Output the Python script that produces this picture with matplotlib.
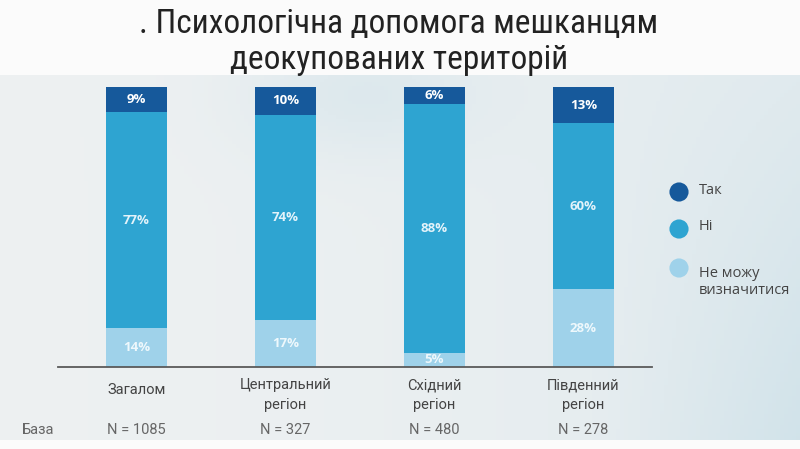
import matplotlib

matplotlib.use("Agg")
import matplotlib.pyplot as plt  # noqa: E402
import numpy as np
from matplotlib import font_manager

categories = ["Загалом", "Центральний\nрегіон", "Східний\nрегіон", "Південний\nрегіон"]
bases = ["N = 1085", "N = 327", "N = 480", "N = 278"]
series_names = ["Так", "Ні", "Не можу\nвизначитися"]
tak = [9, 10, 6, 13]
ni = [77, 74, 88, 60]
hard_to_say = [14, 17, 5, 28]

title = ". Психологічна допомога мешканцям\nдеокупованих територій"


def pick_font(names):
    for name in names:
        try:
            font_manager.findfont(name, fallback_to_default=False)
            return name
        except ValueError:
            continue
    return "DejaVu Sans"


narrow = pick_font(["Roboto Condensed", "Liberation Sans Narrow", "Roboto"])
body = pick_font(["Open Sans", "Roboto"])
label_font = pick_font(["Roboto", "Open Sans"])

W, H = 800, 449
fig = plt.figure(figsize=(8, 4.49), dpi=100)
fig.patch.set_facecolor("#fbfbfb")

# watercolor-ish backdrop
bg = fig.add_axes([0, 1 - 440 / H, 1, (440 - 75) / H])
gx, gy = np.meshgrid(np.linspace(0, 1, 200), np.linspace(0, 1, 100))
shade = 0.3 * gx**2 + 0.3 * np.exp(-((gx - 0.45) ** 2) / 0.02 - (gy - 0.05) ** 2 / 0.03)
shade += 0.45 * np.clip(gx - 0.75, 0, None) * gy * 3
shade = np.clip(shade, 0, 1)
light = np.array([0.93, 0.943, 0.948])
blue = np.array([0.76, 0.86, 0.9])
img = light[None, None, :] * (1 - shade[..., None]) + blue[None, None, :] * shade[..., None]
bg.imshow(img, aspect="auto", extent=[0, 1, 0, 1], origin="upper")
bg.axis("off")

# overlay in pixel coordinates for slide text
ov = fig.add_axes([0, 0, 1, 1], zorder=3)
ov.set_xlim(0, W)
ov.set_ylim(H, 0)
ov.axis("off")
ov.patch.set_alpha(0)

ov.text(399, 42, title, ha="center", va="center", fontsize=24, family=narrow,
        color="#222222", linespacing=1.2)

# bars
ax = fig.add_axes([58 / W, 1 - 367 / H, (652 - 58) / W, 280 / H], zorder=2)
ax.patch.set_alpha(0)
x = np.arange(len(categories))
colors = ["#16599b", "#2ea4d1", "#9fd2ea"]
text_colors = ["#ffffff", "#e3f3fa", "#eef8fc"]
stack = [hard_to_say, ni, tak]
stack_colors = [colors[2], colors[1], colors[0]]
stack_text = [text_colors[2], text_colors[1], text_colors[0]]
totals = np.sum(stack, axis=0)
bottom = np.zeros(len(categories))
for vals, col, tcol in zip(stack, stack_colors, stack_text):
    heights = np.asarray(vals, dtype=float) / totals * 100
    ax.bar(x, heights, bottom=bottom, width=0.41, color=col, edgecolor="none")
    for xi, b, h, v in zip(x, bottom, heights, vals):
        ax.text(xi, b + h / 2, f"{v}%", ha="center", va="center", fontsize=9.5,
                fontweight="bold", color=tcol, family=body)
    bottom += heights

ax.set_xlim((58 - 136.5) / 149, (652 - 136.5) / 149)
ax.set_ylim(0, 100)
for side in ["top", "right", "left"]:
    ax.spines[side].set_visible(False)
ax.spines["bottom"].set_color("#5a5a5a")
ax.spines["bottom"].set_linewidth(1.3)
ax.set_xticks([])
ax.set_yticks([])

# category and base labels
trans = ax.get_xaxis_transform()
for xi, cat, n in zip(x, categories, bases):
    ypx = 390 if "\n" not in cat else 395
    ax.text(xi, (367 - ypx) / 280, cat, transform=trans, ha="center", va="center",
            fontsize=10.5, family=label_font, color="#444444", linespacing=1.5)
    ax.text(xi, (367 - 430) / 280, n, transform=trans, ha="center", va="center",
            fontsize=10.5, family=label_font, color="#666666")
ov.text(22, 430, "База", ha="left", va="center", fontsize=10.5, family=label_font, color="#666666")

# legend
leg_y = [192, 229, 268]
for yy, name, col in zip(leg_y, series_names, colors):
    ov.scatter([679], [yy], s=190, color=col, edgecolor="none")
    ov.text(699, yy - 2, name, ha="left", va="top" if "\n" in name else "center",
            fontsize=10.5, family=body, color="#444444", linespacing=1.15)

fig.savefig("out.png", dpi=100)
